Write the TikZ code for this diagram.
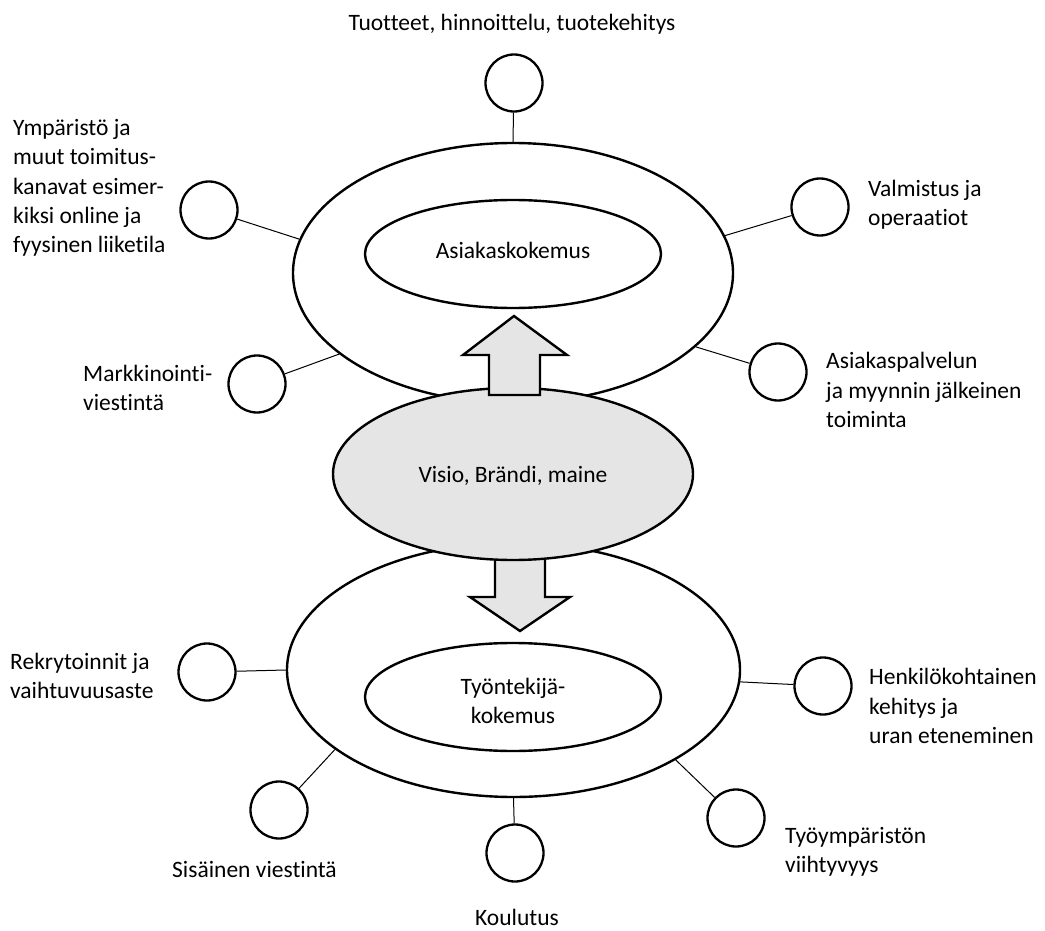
\documentclass[tikz,border=0pt]{standalone}
\usepackage{fontspec}
\setmainfont{Carlito}[Ligatures=NoCommon]
\usetikzlibrary{shapes.geometric}
\definecolor{shade}{HTML}{E5E5E5}
\tikzset{
  ring/.style={ellipse, draw, line width=2.4pt, fill=white, inner sep=0pt},
  core/.style={ellipse, draw, line width=2.4pt, fill=shade, inner sep=0pt},
  item/.style={circle, draw, line width=2.3pt, fill=white, minimum size=57pt, inner sep=0pt},
  link/.style={line width=1pt},
  flow/.style={draw, line width=2.4pt, fill=shade, line join=miter},
  lbl/.style={inner sep=0pt, align=left, font=\fontsize{23.5}{29.3}\selectfont},
}
\begin{document}
\begin{tikzpicture}[x=1pt, y=-1pt]
\useasboundingbox (0,0) rectangle (1045,931);

% customer experience rings
\node[ring, minimum width=440pt, minimum height=260pt] (outerA) at (513,273) {};
\node[ring, minimum width=296pt, minimum height=108pt] (innerA) at (513,254) {};
\node[lbl, anchor=center] (tA) at (513,250) {Asiakaskokemus};

% employee experience rings
\node[ring, minimum width=453pt, minimum height=254pt] (outerB) at (513.5,670) {};
\node[ring, minimum width=296pt, minimum height=108pt] (innerB) at (513,697) {};
\node[lbl, align=center, anchor=center] (tB) at (513,701) {Työntekijä-\\kokemus};

% downward block arrow, its top hidden under the core
\path[flow] (495,540) -- (495,597) -- (470,597) -- (520,631) -- (570,597)
  -- (545,597) -- (545,540) -- cycle;

% vision, brand and reputation core
\node[core, minimum width=360pt, minimum height=172pt] (core) at (513,474) {};
\node[lbl, anchor=center] (tC) at (513,476) {Visio, Brändi, maine};

% upward block arrow, drawn over the core outline
\path[flow] (489,395) -- (489,355) -- (463,355) -- (514,316) -- (567,355)
  -- (540,355) -- (540,395) -- cycle;

% satellite circles
\node[item] (c1) at (514,83) {};
\node[item] (c2) at (209,210) {};
\node[item] (c3) at (257,384) {};
\node[item] (c4) at (820,207) {};
\node[item] (c5) at (778,372) {};
\node[item] (c6) at (207,672) {};
\node[item] (c7) at (279,810) {};
\node[item] (c8) at (515,853) {};
\node[item] (c9) at (736,818) {};
\node[item] (c10) at (823,686) {};

% connectors
\draw[link] (c1) -- (outerA.90);
\draw[link] (c2) -- (outerA.171.2);
\draw[link] (c3) -- (outerA.205.1);
\draw[link] (c4) -- (outerA.10.7);
\draw[link] (c5) -- (outerA.338.7);
\draw[link] (c6) -- (outerB.180.5);
\draw[link] (c7) -- (outerB.204.3);
\draw[link] (c8) -- (outerB.270);
\draw[link] (c9) -- (outerB.331.9);
\draw[link] (c10) -- (outerB.357.7);

% labels
\node[lbl, anchor=center] (l1) at (512,24) {Tuotteet, hinnoittelu, tuotekehitys};
\node[lbl, anchor=west] (l2) at (13,188) {Ympäristö ja\\muut toimitus-\\kanavat esimer-\\kiksi online ja\\fyysinen liiketila};
\node[lbl, anchor=west] (l3) at (83,388) {Markkinointi-\\viestintä};
\node[lbl, anchor=west] (l4) at (868,205) {Valmistus ja\\operaatiot};
\node[lbl, anchor=west] (l5) at (826,390) {Asiakaspalvelun\\ja myynnin jälkeinen\\toiminta};
\node[lbl, anchor=west] (l6) at (10,676) {Rekrytoinnit ja\\vaihtuvuusaste};
\node[lbl, anchor=west] (l7) at (172,869) {Sisäinen viestintä};
\node[lbl, anchor=center] (l8) at (517,917) {Koulutus};
\node[lbl, anchor=west] (l9) at (785,852) {Työympäristön\\viihtyvyys};
\node[lbl, anchor=west] (l10) at (869,706) {Henkilökohtainen\\kehitys ja\\uran eteneminen};
\end{tikzpicture}
\end{document}
